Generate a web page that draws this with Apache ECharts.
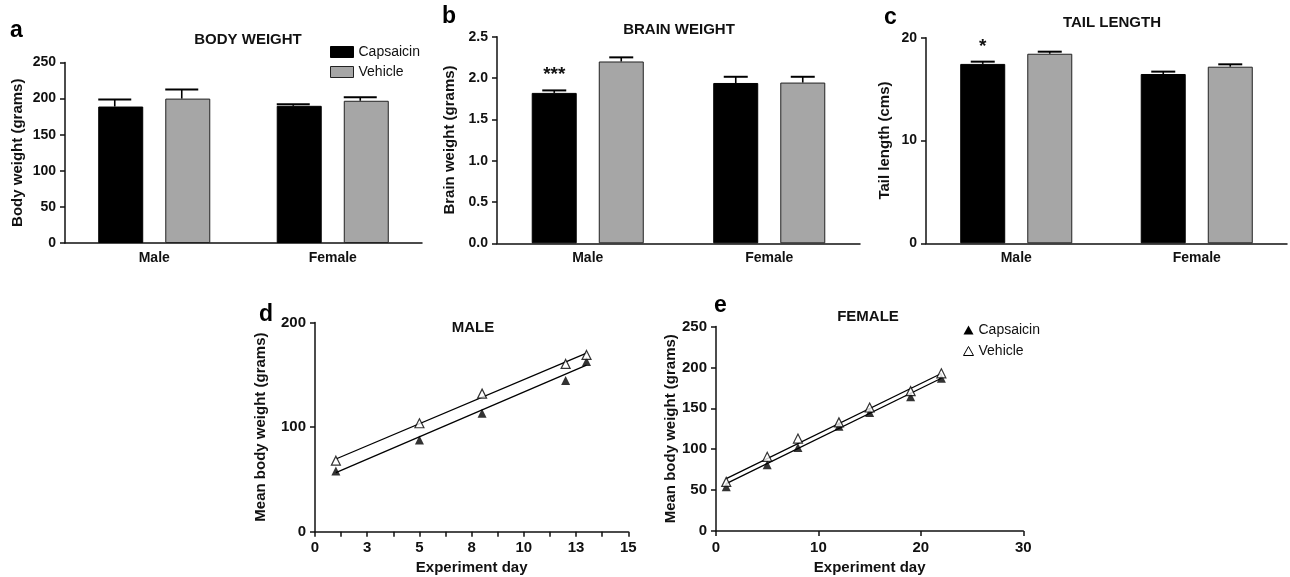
<!DOCTYPE html>
<html><head><meta charset="utf-8">
<script src="https://cdn.jsdelivr.net/npm/echarts@6/dist/echarts.min.js"></script>
<style>html,body{margin:0;padding:0;background:#fff}#c{width:1290px;height:577px}</style>
</head><body><div id="c"></div>
<script>
// ---------- data ----------
const barCategories = ['Male', 'Female'];
const bodyCaps = [189, 190];
const bodyCapsErr = [9.7, 2.2];
const bodyVeh = [200, 197];
const bodyVehErr = [12.7, 5];
const brainCaps = [1.82, 1.94];
const brainCapsErr = [0.03, 0.075];
const brainVeh = [2.20, 1.945];
const brainVehErr = [0.05, 0.07];
const brainSig = ['***', ''];
const tailCaps = [17.45, 16.47];
const tailCapsErr = [0.22, 0.23];
const tailVeh = [18.44, 17.18];
const tailVehErr = [0.2, 0.23];
const tailSig = ['*', ''];
const maleDays = [1, 5, 8, 12, 13];
const maleCaps = [58, 87.7, 113.2, 144.5, 162.7];
const maleVeh = [67.9, 103.7, 132, 160.4, 169];
const maleFitDays = [1, 13];
const maleCapsFit = [56.5, 159.2];
const maleVehFit = [69.5, 170.7];
const femaleDays = [1, 5, 8, 12, 15, 19, 22];
const femaleCaps = [54, 81, 102, 128, 145, 164, 186.7];
const femaleVeh = [60, 90.7, 113, 132.8, 151, 171, 192.8];
const femaleFitDays = [1, 22];
const femaleCapsFit = [58, 186.7];
const femaleVehFit = [64, 192.5];
const bodyTicks = [0, 250, 50];
const brainTicks = [0, 2.5, 0.5];
const tailTicks = [0, 20, 10];
const maleYTicks = [0, 200, 100];
const maleXTicks = [0, 15, 1.25];
const femaleYTicks = [0, 250, 50];
const femaleXTicks = [0, 30, 10];

// ---------- styles ----------
const FONT = "'Liberation Sans', Arial, Helvetica, sans-serif";
const INK = '#111';
const GRAY = '#a6a6a6';
const axisLine = {show: true, onZero: false, lineStyle: {color: INK, width: 1.5}};
const axisTick = {show: true, length: 5, lineStyle: {color: INK, width: 1.5}};

function catX(gi) {
  return {type: 'category', gridIndex: gi, data: barCategories, axisLine,
    axisTick: {show: false},
    axisLabel: {color: INK, fontFamily: FONT, fontWeight: 'bold', fontSize: 14, margin: 8}};
}
function valY(gi, t, name, gap, fs, fmt) {
  return {type: 'value', gridIndex: gi, min: t[0], max: t[1], interval: t[2],
    splitLine: {show: false}, axisLine, axisTick,
    axisLabel: {color: INK, fontFamily: FONT, fontWeight: 'bold', fontSize: fs, margin: 9, formatter: fmt},
    name, nameLocation: 'middle', nameGap: gap,
    nameTextStyle: {color: INK, fontFamily: FONT, fontWeight: 'bold', fontSize: 15}};
}
function barSeries(gi, name, vals, color, sig, dist) {
  return {type: 'bar', name, xAxisIndex: gi, yAxisIndex: gi, barWidth: 45, barGap: '49%',
    itemStyle: {color, borderColor: name === 'Vehicle' ? '#222' : '#000', borderWidth: 1},
    data: vals.map((v, i) => sig && sig[i] ? {value: v, label: {show: true, formatter: sig[i], position: 'top',
      distance: dist, color: INK, fontFamily: FONT, fontWeight: 'bold', fontSize: 19}} : v)};
}
function errSeries(gi, name, vals, errs, offset, halfCap) {
  return {type: 'custom', name, xAxisIndex: gi, yAxisIndex: gi, z: 5, silent: true,
    data: vals.map((v, i) => [i, v, v + errs[i]]),
    encode: {x: 0, y: [1, 2]},
    renderItem: (params, api) => {
      const base = api.coord([api.value(0), api.value(1)]);
      const top = api.coord([api.value(0), api.value(2)]);
      const x = base[0] + offset;
      return {type: 'group', children: [
        {type: 'line', shape: {x1: x, y1: base[1], x2: x, y2: top[1]}, style: {stroke: '#000', lineWidth: 1.6}},
        {type: 'line', shape: {x1: x - halfCap, y1: top[1], x2: x + halfCap, y2: top[1]}, style: {stroke: '#000', lineWidth: 2}}
      ]};
    }};
}
function pts(gi, name, xs, ys, open) {
  return {type: 'scatter', name, xAxisIndex: gi, yAxisIndex: gi, symbol: 'triangle', symbolSize: [9, 9], z: 4,
    itemStyle: open ? {color: '#fff', borderColor: '#000', borderWidth: 1.2} : {color: '#000'},
    data: xs.map((x, i) => [x, ys[i]])};
}
function fit(gi, name, xs, ys) {
  return {type: 'line', name, xAxisIndex: gi, yAxisIndex: gi, showSymbol: false, symbol: 'none', silent: true, z: 3,
    lineStyle: {color: '#000', width: 1.3}, data: xs.map((x, i) => [x, ys[i]])};
}
function valX(gi, t, fmt) {
  return {type: 'value', gridIndex: gi, min: t[0], max: t[1], interval: t[2], splitLine: {show: false},
    axisLine, axisTick,
    axisLabel: {color: INK, fontFamily: FONT, fontWeight: 'bold', fontSize: 15, margin: 9, formatter: fmt},
    name: 'Experiment day', nameLocation: 'middle', nameGap: 29,
    nameTextStyle: {color: INK, fontFamily: FONT, fontWeight: 'bold', fontSize: 15}};
}
const tTitle = (text, left, top, fs) => ({text, left, top, textAlign: 'center',
  textStyle: {color: INK, fontFamily: FONT, fontWeight: 'bold', fontSize: fs || 15}});
const letter = (text, left, top) => ({text, left, top,
  textStyle: {color: '#000', fontFamily: FONT, fontWeight: 'bold', fontSize: 23}});

const chart = echarts.init(document.getElementById('c'), null, {renderer: 'canvas'});
chart.setOption({
  backgroundColor: '#fff',
  animation: false,
  title: [
    letter('a', 5, 14), letter('b', 437, 0), letter('c', 879, 1), letter('d', 254, 298), letter('e', 709, 289),
    tTitle('BODY WEIGHT', 243, 27), tTitle('BRAIN WEIGHT', 674, 17), tTitle('TAIL LENGTH', 1107, 10),
    tTitle('MALE', 468, 315), tTitle('FEMALE', 863, 304)
  ],
  legend: [
    {left: 325, top: 40, orient: 'vertical', icon: 'rect', itemWidth: 23, itemHeight: 11, itemGap: 6,
      textStyle: {color: INK, fontFamily: FONT, fontSize: 14}, selectedMode: false,
      data: [{name: 'Capsaicin', itemStyle: {color: '#000', borderColor: '#000', borderWidth: 1}},
             {name: 'Vehicle', itemStyle: {color: GRAY, borderColor: '#222', borderWidth: 1}}]},
    {left: 958, top: 318, orient: 'vertical', itemWidth: 10, itemHeight: 9, itemGap: 7,
      textStyle: {color: INK, fontFamily: FONT, fontSize: 14}, selectedMode: false,
      data: [{name: 'Capsaicin', icon: 'triangle', itemStyle: {color: '#000', borderWidth: 0}},
             {name: 'Vehicle', icon: 'triangle', itemStyle: {color: '#fff', borderColor: '#000', borderWidth: 1}}]}
  ],
  grid: [
    {left: 65, top: 62.5, width: 357, height: 180.5},
    {left: 497, top: 36.7, width: 363, height: 206.6},
    {left: 926, top: 37.7, width: 361, height: 205.6},
    {left: 315, top: 322.5, width: 313.3, height: 209.2},
    {left: 716, top: 326.5, width: 307.3, height: 204.5}
  ],
  xAxis: [catX(0), catX(1), catX(2),
    valX(3, maleXTicks, v => (Math.round(v / maleXTicks[2]) % 2 === 0) ? String(Math.round(v)) : ''),
    valX(4, femaleXTicks)],
  yAxis: [
    valY(0, bodyTicks, 'Body weight (grams)', 40, 14),
    valY(1, brainTicks, 'Brain weight (grams)', 40, 14, v => v.toFixed(1)),
    valY(2, tailTicks, 'Tail length (cms)', 34, 14),
    valY(3, maleYTicks, 'Mean body weight (grams)', 47, 15),
    valY(4, femaleYTicks, 'Mean body weight (grams)', 38, 15)
  ],
  series: [
    barSeries(0, 'Capsaicin', bodyCaps, '#000'),
    barSeries(0, 'Vehicle', bodyVeh, GRAY),
    errSeries(0, 'Capsaicin', bodyCaps, bodyCapsErr, -33.5 - 6, 16.5),
    errSeries(0, 'Vehicle', bodyVeh, bodyVehErr, 33.5 - 6, 16.5),
    barSeries(1, 'Capsaicin', brainCaps, '#000', brainSig, 9),
    barSeries(1, 'Vehicle', brainVeh, GRAY),
    errSeries(1, 'Capsaicin', brainCaps, brainCapsErr, -33.5, 12),
    errSeries(1, 'Vehicle', brainVeh, brainVehErr, 33.5, 12),
    barSeries(2, 'Capsaicin', tailCaps, '#000', tailSig, 8),
    barSeries(2, 'Vehicle', tailVeh, GRAY),
    errSeries(2, 'Capsaicin', tailCaps, tailCapsErr, -33.5, 12),
    errSeries(2, 'Vehicle', tailVeh, tailVehErr, 33.5, 12),
    fit(3, 'Capsaicin', maleFitDays, maleCapsFit),
    fit(3, 'Vehicle', maleFitDays, maleVehFit),
    pts(3, 'Capsaicin', maleDays, maleCaps, false),
    pts(3, 'Vehicle', maleDays, maleVeh, true),
    fit(4, 'Capsaicin', femaleFitDays, femaleCapsFit),
    fit(4, 'Vehicle', femaleFitDays, femaleVehFit),
    pts(4, 'Capsaicin', femaleDays, femaleCaps, false),
    pts(4, 'Vehicle', femaleDays, femaleVeh, true)
  ]
});
</script></body></html>
